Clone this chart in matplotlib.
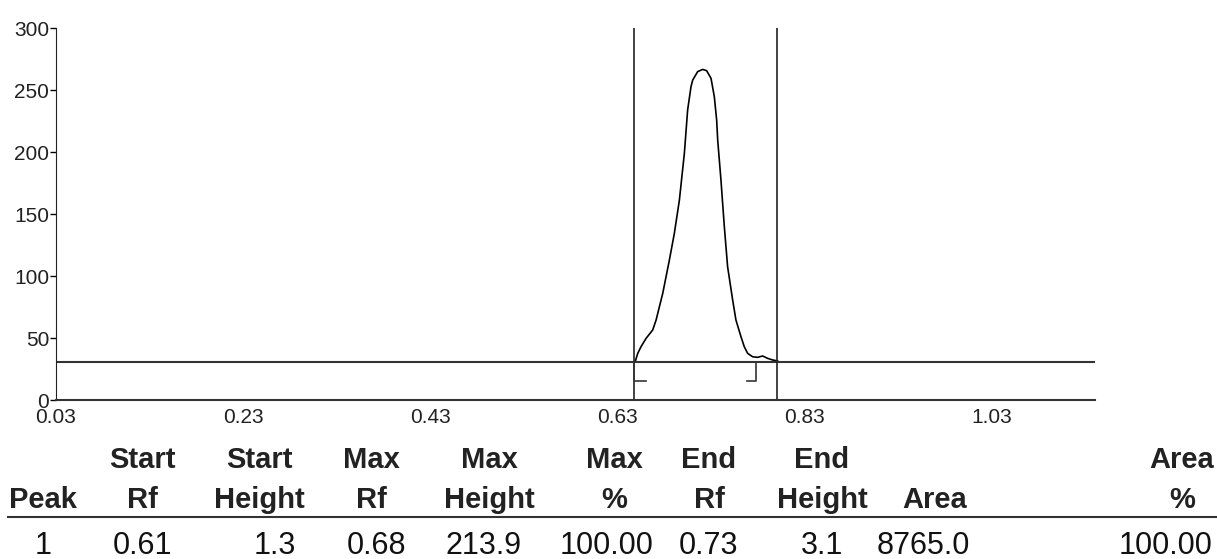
import matplotlib.pyplot as plt

plt.rcParams['font.family'] = ['Liberation Sans', 'DejaVu Sans']

# scan trace
rf = [0.649, 0.6515, 0.655, 0.6604, 0.6675, 0.6711, 0.6782, 0.6853, 0.6906,
      0.6960, 0.7013, 0.7048, 0.7084, 0.7102, 0.7155, 0.7208, 0.7251, 0.7298,
      0.7333, 0.7358, 0.7369, 0.7404, 0.7440, 0.7475, 0.7529, 0.7564, 0.7618,
      0.7653, 0.7689, 0.7742, 0.7796, 0.7849, 0.7902, 0.7955, 0.8009]
intensity = [31.5, 37.6, 43.0, 49.7, 56.5, 64.5, 86.0, 112.9, 134.4,
             161.3, 198.9, 233.9, 252.7, 258.0, 264.8, 266.6, 265.6, 259.4,
             244.6, 225.8, 209.7, 177.4, 139.8, 107.5, 80.6, 64.5, 51.0,
             43.0, 37.6, 34.9, 34.4, 35.5, 33.6, 32.3, 31.5]
baseline = 31
lane_start = 0.648
lane_end = 0.800
peak_start = 0.648
peak_end = 0.778
xticks = [0.03, 0.23, 0.43, 0.63, 0.83, 1.03]
yticks = [0, 50, 100, 150, 200, 250, 300]

# result table
header1 = ['', 'Start', 'Start', 'Max', 'Max', 'Max', 'End', 'End', '', 'Area']
header2 = ['Peak', 'Rf', 'Height', 'Rf', 'Height', '%', 'Rf', 'Height', 'Area', '%']
row1 = ['1', '0.61', '1.3', '0.68', '213.9', '100.00', '0.73', '3.1', '8765.0', '100.00']
head_x = [43, 142, 259, 371, 489, 614, 709, 822, 935, 1182]
val_x = [43, 143, 275, 376, 484, 607, 708, 822, 923, 1166]

W, H = 1217, 559
fig = plt.figure(figsize=(W / 100, H / 100), dpi=100)
ax = fig.add_axes([56 / W, 1 - 400 / H, (1095 - 56) / W, (400 - 28) / H])

ax.plot(rf, intensity, color='black', lw=1.2)
ax.plot([0.03, 1.14], [baseline, baseline], color='#333333', lw=1.5)
ax.plot([lane_start, lane_start], [0, 300], color='#222222', lw=1.2)
ax.plot([lane_end, lane_end], [0, 300], color='#222222', lw=1.2)
# start / end markers
ax.plot([peak_start, peak_start, peak_start + 0.012], [baseline, 15, 15], color='#333333', lw=1.2)
ax.plot([peak_end, peak_end, peak_end - 0.010], [baseline, 15, 15], color='#333333', lw=1.2)

ax.set_xlim(0.03, 1.14)
ax.set_ylim(0, 300)
ax.set_xticks(xticks)
ax.set_xticklabels(['%.2f' % v for v in xticks])
ax.set_yticks(yticks)
ax.tick_params(axis='x', length=0, pad=6, labelsize=15, labelcolor='#222222')
ax.tick_params(axis='y', length=4, width=1, pad=1, labelsize=15, labelcolor='#222222')
for s in ['top', 'right']:
    ax.spines[s].set_visible(False)
ax.spines['left'].set_color('#222222')
ax.spines['bottom'].set_color('#333333')
ax.spines['bottom'].set_linewidth(1.5)

for hx, vx, a, b, c in zip(head_x, val_x, header1, header2, row1):
    fig.text(hx / W, 1 - 468 / H, a, ha='center', va='baseline', fontsize=21, fontweight='bold', color='#222222')
    fig.text(hx / W, 1 - 508 / H, b, ha='center', va='baseline', fontsize=21, fontweight='bold', color='#222222')
    fig.text(vx / W, 1 - 554 / H, c, ha='center', va='baseline', fontsize=22, color='#111111')

fig.add_artist(plt.Line2D([8 / W, 1.0], [1 - 517 / H, 1 - 517 / H], color='#333333', lw=1.5))

fig.savefig('out.png', dpi=100)
